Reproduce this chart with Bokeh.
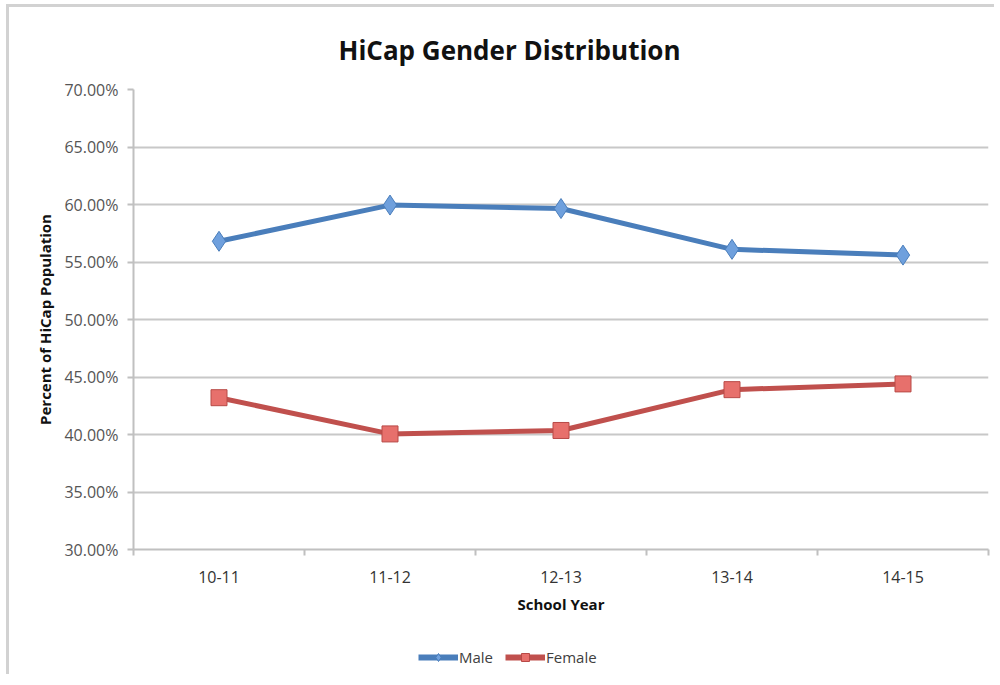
import numpy as np
from bokeh.plotting import figure
from bokeh.layouts import column
from bokeh.models import FixedTicker, NumeralTickFormatter, Legend, LegendItem, Range1d
from bokeh.embed import file_html
from bokeh.resources import INLINE

categories = ["10-11", "11-12", "12-13", "13-14", "14-15"]
male = [0.568, 0.5995, 0.5965, 0.561, 0.556]
female = [0.432, 0.4005, 0.4035, 0.439, 0.444]
y_ticks = [0.30, 0.35, 0.40, 0.45, 0.50, 0.55, 0.60, 0.65, 0.70]
series_names = ["Male", "Female"]

xpos = list(np.arange(len(categories)) + 0.5)

FONT = "Open Sans"
MALE_LINE, MALE_FILL = "#4a7ebb", "#6fa0dd"
FEM_LINE, FEM_FILL, FEM_EDGE = "#c0504d", "#e7706c", "#b84a47"

p = figure(width=985, height=617, output_backend="svg", toolbar_location=None,
           x_range=Range1d(0, len(categories)), y_range=Range1d(0.30, 0.70),
           min_border_left=124, min_border_right=6, min_border_top=82, min_border_bottom=75)

p.title.text = "HiCap Gender Distribution"
p.title.text_font = FONT
p.title.text_font_size = "26px"
p.title.text_font_style = "bold"
p.title.text_color = "#111111"
p.title.align = "left"
p.title.offset = 205
p.title.standoff = 43

p.outline_line_color = None
p.xgrid.grid_line_color = None
p.ygrid.grid_line_color = "#c8c8c8"
p.ygrid.grid_line_width = 2

# y axis
p.yaxis.ticker = FixedTicker(ticks=y_ticks)
p.yaxis.formatter = NumeralTickFormatter(format="0.00%")
p.yaxis.axis_line_color = "#c0c0c0"
p.yaxis.axis_line_width = 2
p.yaxis.major_tick_line_color = "#c0c0c0"
p.yaxis.major_tick_line_width = 2
p.yaxis.major_tick_out = 6
p.yaxis.major_tick_in = 0
p.yaxis.minor_tick_line_color = None
p.yaxis.major_label_text_font = FONT
p.yaxis.major_label_text_font_size = "16px"
p.yaxis.major_label_text_color = "#555555"
p.yaxis.major_label_standoff = 9
p.yaxis.axis_label = "Percent of HiCap Population"
p.yaxis.axis_label_text_font = FONT
p.yaxis.axis_label_text_font_size = "15px"
p.yaxis.axis_label_text_font_style = "bold"
p.yaxis.axis_label_text_color = "#111111"
p.yaxis.axis_label_standoff = 6

# x axis
p.xaxis.ticker = FixedTicker(ticks=xpos, minor_ticks=list(range(len(categories) + 1)))
p.xaxis.major_label_overrides = {x: c for x, c in zip(xpos, categories)}
p.xaxis.axis_line_color = "#c0c0c0"
p.xaxis.axis_line_width = 2
p.xaxis.major_tick_line_color = None
p.xaxis.major_tick_out = 0
p.xaxis.major_tick_in = 0
p.xaxis.minor_tick_line_color = "#c0c0c0"
p.xaxis.minor_tick_line_width = 2
p.xaxis.minor_tick_out = 6
p.xaxis.minor_tick_in = 0
p.xaxis.major_label_text_font = FONT
p.xaxis.major_label_text_font_size = "16px"
p.xaxis.major_label_text_color = "#333333"
p.xaxis.major_label_standoff = 15
p.xaxis.axis_label = "School Year"
p.xaxis.axis_label_text_font = FONT
p.xaxis.axis_label_text_font_size = "15px"
p.xaxis.axis_label_text_font_style = "bold"
p.xaxis.axis_label_text_color = "#111111"
p.xaxis.axis_label_standoff = 8

p.line(xpos, male, line_color=MALE_LINE, line_width=5)
p.scatter(xpos, male, marker="diamond", size=20, fill_color=MALE_FILL,
          line_color=MALE_LINE, line_width=1)
p.line(xpos, female, line_color=FEM_LINE, line_width=5)
p.scatter(xpos, female, marker="square", size=16, fill_color=FEM_FILL,
          line_color=FEM_EDGE, line_width=1)

# legend strip below the chart (proxy renderers sit outside its visible range)
lg = figure(width=985, height=50, output_backend="svg", toolbar_location=None,
            x_range=Range1d(0, 1), y_range=Range1d(0, 1),
            min_border_left=0, min_border_right=0, min_border_top=0, min_border_bottom=0)
lg.axis.visible = False
lg.grid.visible = False
lg.outline_line_color = None
proxy = [-10]
ml = lg.line(proxy, proxy, line_color=MALE_LINE, line_width=6)
ms = lg.scatter(proxy, proxy, marker="diamond", size=14, fill_color=MALE_FILL, line_color=MALE_LINE)
fl = lg.line(proxy, proxy, line_color=FEM_LINE, line_width=6)
fs = lg.scatter(proxy, proxy, marker="square", size=13, fill_color=FEM_FILL, line_color=FEM_EDGE)

legend = Legend(items=[LegendItem(label=series_names[0], renderers=[ml, ms]),
                       LegendItem(label=series_names[1], renderers=[fl, fs])],
                orientation="horizontal", location=(285, 7),
                border_line_alpha=0, background_fill_alpha=0,
                label_text_font=FONT, label_text_font_size="15px", label_text_color="#404040",
                glyph_width=40, glyph_height=20, label_standoff=1, spacing=12,
                padding=0, margin=0)
lg.add_layout(legend, "center")

layout = column(p, lg, spacing=0,
                styles={"border-left": "3px solid #d2d2d2", "border-top": "3px solid #d2d2d2",
                        "margin-left": "6px", "margin-top": "4px"})

open("out.html", "w").write(file_html(layout, INLINE))
